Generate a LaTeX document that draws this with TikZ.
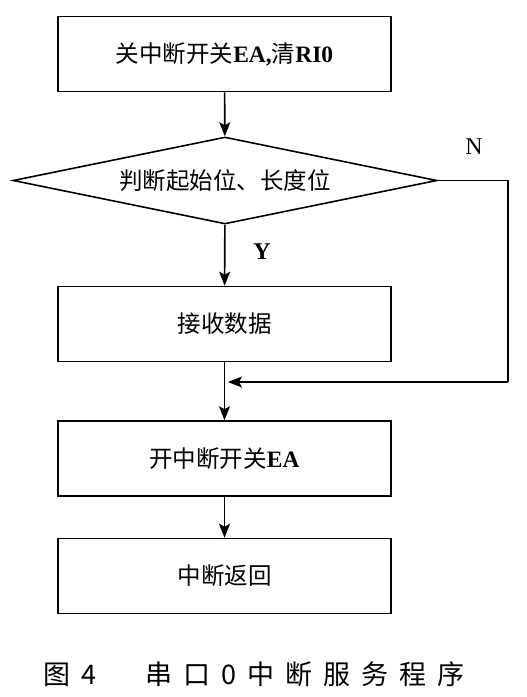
\documentclass[tikz,border=0pt]{standalone}
\usepackage{fontspec}
\setmainfont{Liberation Serif}
\newfontfamily\cjk{Noto Sans CJK SC}
\usetikzlibrary{arrows.meta, shapes.geometric}
\newcommand{\capgap}{\hspace{11pt}}

\begin{document}
\begin{tikzpicture}[
  x=1pt, y=-1pt,
  every node/.style={inner sep=0pt, font=\fontsize{23.5}{28}\selectfont},
  procbox/.style={draw, line width=1.6pt, minimum width=333pt, minimum height=75pt},
  testbox/.style={draw, diamond, line width=1.6pt, aspect=4.87, minimum width=424pt, minimum height=87pt},
  flow/.style={line width=1.6pt, -{Stealth[length=14pt, width=11pt, inset=3pt]}},
  link/.style={line width=1.6pt}
]
  \useasboundingbox (0,0) rectangle (527,697);

  % --- Main column ---
  \node[procbox] (init)   at (224.5,54)  {{\cjk 关中断开关}\textbf{EA,}{\cjk 清}\textbf{RI0}};
  \node[testbox] (check)  at (225,180.5) {\cjk 判断起始位、长度位};
  \node[procbox] (recv)   at (224.5,324) {\cjk 接收数据};
  \node[procbox] (enable) at (224.5,458.5) {{\cjk 开中断开关}\textbf{EA}};
  \node[procbox] (ret)    at (224.5,576) {\cjk 中断返回};

  \draw[flow] (init) -- (check);
  \draw[flow] (check) -- (recv);
  \draw[flow] (recv) -- (enable);
  \draw[flow] (enable) -- (ret);

  % --- N branch back to the column ---
  \coordinate (nturn) at (508,180.5);
  \coordinate (nback) at (508,382);
  \coordinate (merge) at (228,382);
  \draw[link] (check.east) -- (nturn) -- (nback);
  \draw[flow] (nback) -- (merge);

  % Labels
  \node[font=\fontsize{24}{28}\selectfont] (nlabel) at (474,147) {N};
  \node[font=\fontsize{24}{28}\selectfont\bfseries] (ylabel) at (262,252) {Y};

  % Caption
  \node[font=\fontsize{27}{31}\selectfont\cjk] (caption) at (254,674)
    {图\capgap 4\hspace{50pt}串\capgap 口\capgap 0\capgap 中\capgap 断\capgap 服\capgap 务\capgap 程\capgap 序};
\end{tikzpicture}
\end{document}
